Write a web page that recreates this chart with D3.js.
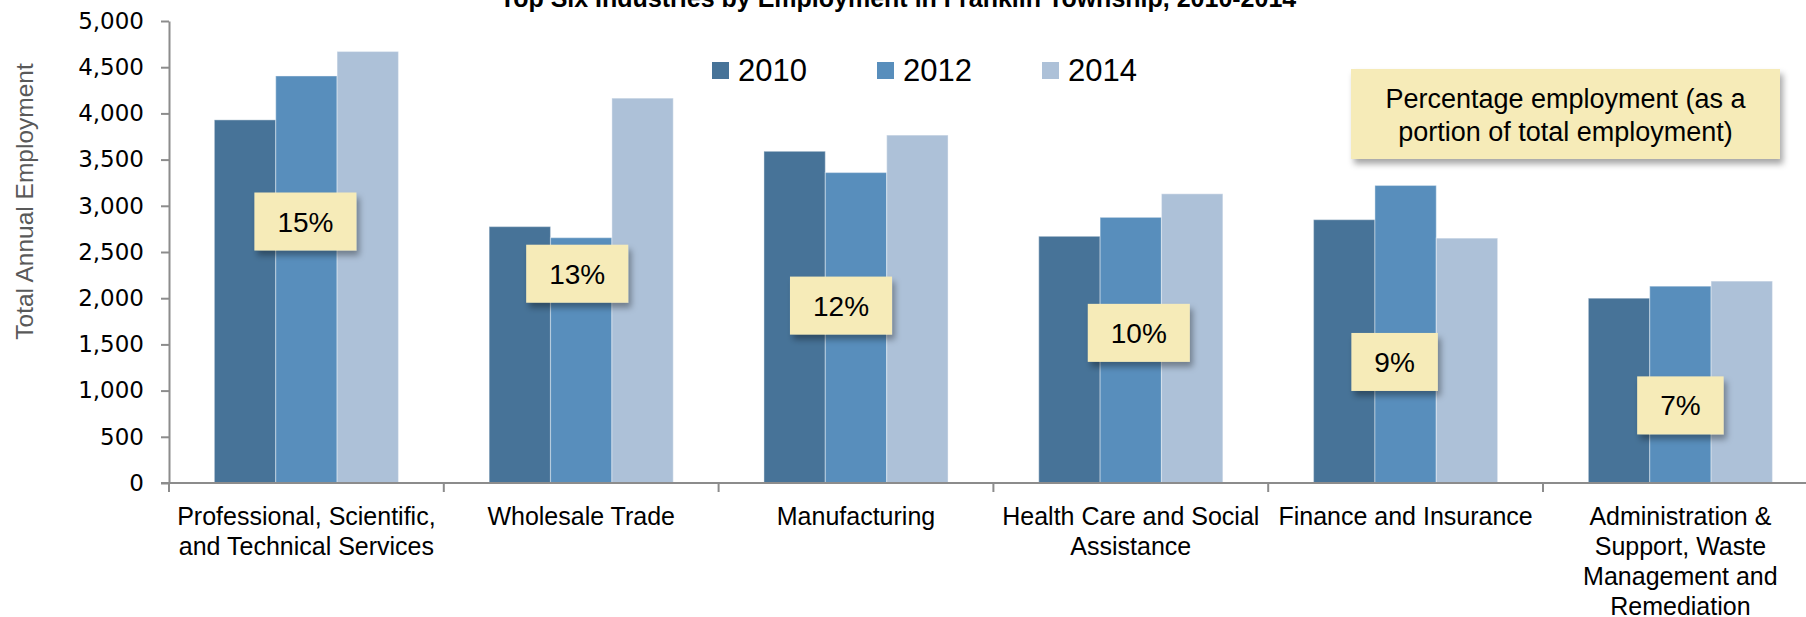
<!DOCTYPE html>
<html lang="en">
<head>
<meta charset="UTF-8">
<title>Top Six Industries by Employment in Franklin Township</title>
<style>
  body { margin: 0; background: #fff; }
  svg { display: block; font-family: "Liberation Sans", Arial, sans-serif; }
  .axis path, .axis line { stroke: #8c8c8c; stroke-width: 2; fill: none; }
  .axis text { font-family: "DejaVu Sans", sans-serif; font-size: 23px; fill: #000; }
</style>
</head>
<body>
<svg width="1806" height="617"></svg>
<script src="https://d3js.org/d3.v7.min.js"></script>
<script>

var categories = ["Professional, Scientific, and Technical Services", "Wholesale Trade", "Manufacturing",
                  "Health Care and Social Assistance", "Finance and Insurance",
                  "Administration & Support, Waste Management and Remediation"];
var categoryLines = [["Professional, Scientific,", "and Technical Services"],
                     ["Wholesale Trade"],
                     ["Manufacturing"],
                     ["Health Care and Social", "Assistance"],
                     ["Finance and Insurance"],
                     ["Administration &", "Support, Waste", "Management and", "Remediation"]];
var years = ["2010", "2012", "2014"];
var v2010 = [3930, 2775, 3590, 2670, 2850, 2000];
var v2012 = [4405, 2655, 3360, 2875, 3220, 2130];
var v2014 = [4670, 4165, 3765, 3130, 2650, 2185];
var yTicks = [0, 500, 1000, 1500, 2000, 2500, 3000, 3500, 4000, 4500, 5000];

// share of total employment, with where each note sits (value units, pixel nudge)
var shareLabels = ["15%", "13%", "12%", "10%", "9%", "7%"];
var shareAt = [2830, 2265, 1920, 1625, 1310, 840];
var shareNudge = [-1, -4, -15, 8, -11, 0];

var colors = {"2010": "#477398", "2012": "#588ebc", "2014": "#adc1d8"};

var series = {"2010": v2010, "2012": v2012, "2014": v2014};

var svg = d3.select("svg");

var defs = svg.append("defs");
var shadow = defs.append("filter").attr("id", "shadow")
    .attr("x", "-20%").attr("y", "-20%").attr("width", "150%").attr("height", "160%");
shadow.append("feDropShadow")
    .attr("dx", 3).attr("dy", 5).attr("stdDeviation", 3)
    .attr("flood-color", "#000").attr("flood-opacity", 0.35);

var x = d3.scaleBand()
    .domain(categories)
    .range([169, 169 + 6 * 274.8])
    .padding(0);
var bw = x.bandwidth();

var x1 = d3.scaleBand()
    .domain(years)
    .range([bw * 0.165, bw * 0.835]);

var y = d3.scaleLinear()
    .domain([0, 5000])
    .range([483, 21]);

// title (partly cut off at the top in the original)
svg.append("text")
    .attr("x", 898).attr("y", 7)
    .attr("text-anchor", "middle")
    .style("font-weight", "bold").style("font-size", "25px")
    .text("Top Six Industries by Employment in Franklin Township, 2010-2014");

// bars
var groups = svg.selectAll(".group")
  .data(categories)
  .enter().append("g")
    .attr("class", "group")
    .attr("transform", function(d) { return "translate(" + x(d) + ",0)"; });

groups.selectAll("rect")
  .data(function(d, i) { return years.map(function(yr) { return {year: yr, value: series[yr][i]}; }); })
  .enter().append("rect")
    .attr("x", function(d) { return x1(d.year); })
    .attr("y", function(d) { return y(d.value); })
    .attr("width", x1.bandwidth())
    .attr("height", function(d) { return y(0) - y(d.value); })
    .attr("fill", function(d) { return colors[d.year]; })
    .attr("stroke", "rgba(255,255,255,0.35)")
    .attr("stroke-width", 1.2);

// y axis
svg.append("g")
    .attr("class", "axis")
    .attr("transform", "translate(169,0)")
    .call(d3.axisLeft(y)
        .tickValues(yTicks)
        .tickFormat(d3.format(","))
        .tickSize(8)
        .tickSizeOuter(0)
        .tickPadding(17));

// x axis: baseline plus boundary ticks
var xAxis = svg.append("g").attr("class", "axis");
xAxis.append("line")
    .attr("x1", 161).attr("x2", x.range()[1])
    .attr("y1", y(0)).attr("y2", y(0));
xAxis.selectAll(".tick")
  .data(categories)
  .enter().append("line")
    .attr("x1", function(d) { return x(d); })
    .attr("x2", function(d) { return x(d); })
    .attr("y1", y(0)).attr("y2", y(0) + 9);

// category labels
var labels = svg.selectAll(".cat")
  .data(categories)
  .enter().append("text")
    .attr("class", "cat")
    .attr("text-anchor", "middle")
    .style("font-size", "25px")
    .attr("fill", "#000");
labels.selectAll("tspan")
  .data(function(d, i) { return categoryLines[i]; })
  .enter().append("tspan")
    .attr("x", function() { return x(this.parentNode.__data__) + bw / 2; })
    .attr("y", function(d, i) { return 525 + i * 30; })
    .text(function(d) { return d; });

// y axis title
svg.append("text")
    .attr("transform", "translate(33,201.5) rotate(-90)")
    .attr("text-anchor", "middle")
    .style("font-size", "24.5px")
    .attr("fill", "#595959")
    .text("Total Annual Employment");

// legend
var legend = svg.selectAll(".legend")
  .data(years)
  .enter().append("g")
    .attr("class", "legend")
    .attr("transform", function(d, i) { return "translate(" + (712 + i * 165) + ",62)"; });
legend.append("rect")
    .attr("width", 17).attr("height", 17)
    .attr("fill", function(d) { return colors[d]; });
legend.append("text")
    .attr("x", 26).attr("y", 19)
    .style("font-size", "31px")
    .text(function(d) { return d; });

// share notes
var notes = svg.selectAll(".share")
  .data(shareLabels)
  .enter().append("g")
    .attr("class", "share")
    .attr("transform", function(d, i) {
      return "translate(" + (x(categories[i]) + bw / 2 + shareNudge[i]) + "," + y(shareAt[i]) + ")";
    });
notes.append("rect")
    .attr("class", "box")
    .attr("y", -29).attr("height", 58)
    .attr("fill", "#f6ebb8")
    .attr("filter", "url(#shadow)");
notes.append("text")
    .attr("text-anchor", "middle")
    .attr("y", 10)
    .style("font-size", "28px")
    .text(function(d) { return d; });
notes.each(function() {
  var g = d3.select(this);
  var w = g.select("text").node().getComputedTextLength() + 46;
  g.select("rect").attr("x", -w / 2).attr("width", w);
});

// explanatory box
var key = svg.append("g").attr("transform", "translate(1351,69)");
key.append("rect")
    .attr("width", 429).attr("height", 90)
    .attr("fill", "#f6ebb8")
    .attr("filter", "url(#shadow)");
key.append("text")
    .attr("text-anchor", "middle")
    .style("font-size", "27px")
  .selectAll("tspan")
  .data(["Percentage employment (as a", "portion of total employment)"])
  .enter().append("tspan")
    .attr("x", 214.5)
    .attr("y", function(d, i) { return 39 + i * 33; })
    .text(function(d) { return d; });

</script>
</body>
</html>
